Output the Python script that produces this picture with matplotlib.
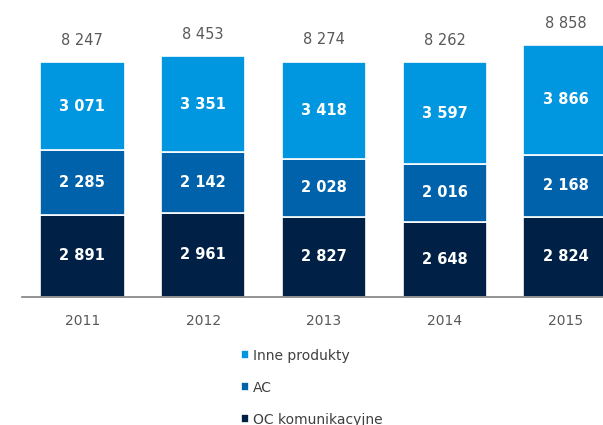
import numpy as np
import matplotlib.pyplot as plt

years = ["2011", "2012", "2013", "2014", "2015"]
oc = [2891, 2961, 2827, 2648, 2824]
ac = [2285, 2142, 2028, 2016, 2168]
inne = [3071, 3351, 3418, 3597, 3866]
totals = [8247, 8453, 8274, 8262, 8858]

series_names = ["OC komunikacyjne", "AC", "Inne produkty"]
colors = ["#002145", "#0062AA", "#0096E0"]


def fmt(v):
    return f"{v:,}".replace(",", " ")


fig = plt.figure(figsize=(6.03, 4.25), dpi=100)
ax = fig.add_axes([22 / 603, 128 / 425, 604 / 603, 297 / 425])

x = np.arange(len(years))
bottom = np.zeros(len(years))
handles = []
for vals, col, name in zip([oc, ac, inne], colors, series_names):
    b = ax.bar(x, vals, 0.70, bottom=bottom, color=col, edgecolor="white",
               linewidth=1.2, label=name)
    handles.append(b)
    for xi, v, bt in zip(x, vals, bottom):
        ax.text(xi, bt + v / 2, fmt(v), ha="center", va="center",
                color="white", fontsize=10.5, fontweight="bold")
    bottom += np.array(vals)

for xi, t in zip(x, totals):
    ax.text(xi, t + 770, fmt(t), ha="center", va="center",
            color="#595959", fontsize=10.5)

ax.set_xlim(-0.5, len(years) - 0.5)
ax.set_ylim(0, 10440)
ax.set_yticks([])
ax.set_xticks(x)
ax.set_xticklabels(years, color="#595959", fontsize=10)
ax.tick_params(axis="x", length=0, pad=12)
for s in ["top", "right", "left"]:
    ax.spines[s].set_visible(False)
ax.spines["bottom"].set_color("#808080")
ax.spines["bottom"].set_linewidth(1.2)

leg = fig.legend(handles[::-1], series_names[::-1], loc="upper left",
                 bbox_to_anchor=(235 / 603, 1 - 343 / 425), frameon=False,
                 fontsize=10, handlelength=0.6, handleheight=0.6,
                 handletextpad=0.3, labelspacing=1.3, borderaxespad=0)
for t in leg.get_texts():
    t.set_color("#404040")

fig.savefig("out.png", dpi=100)
